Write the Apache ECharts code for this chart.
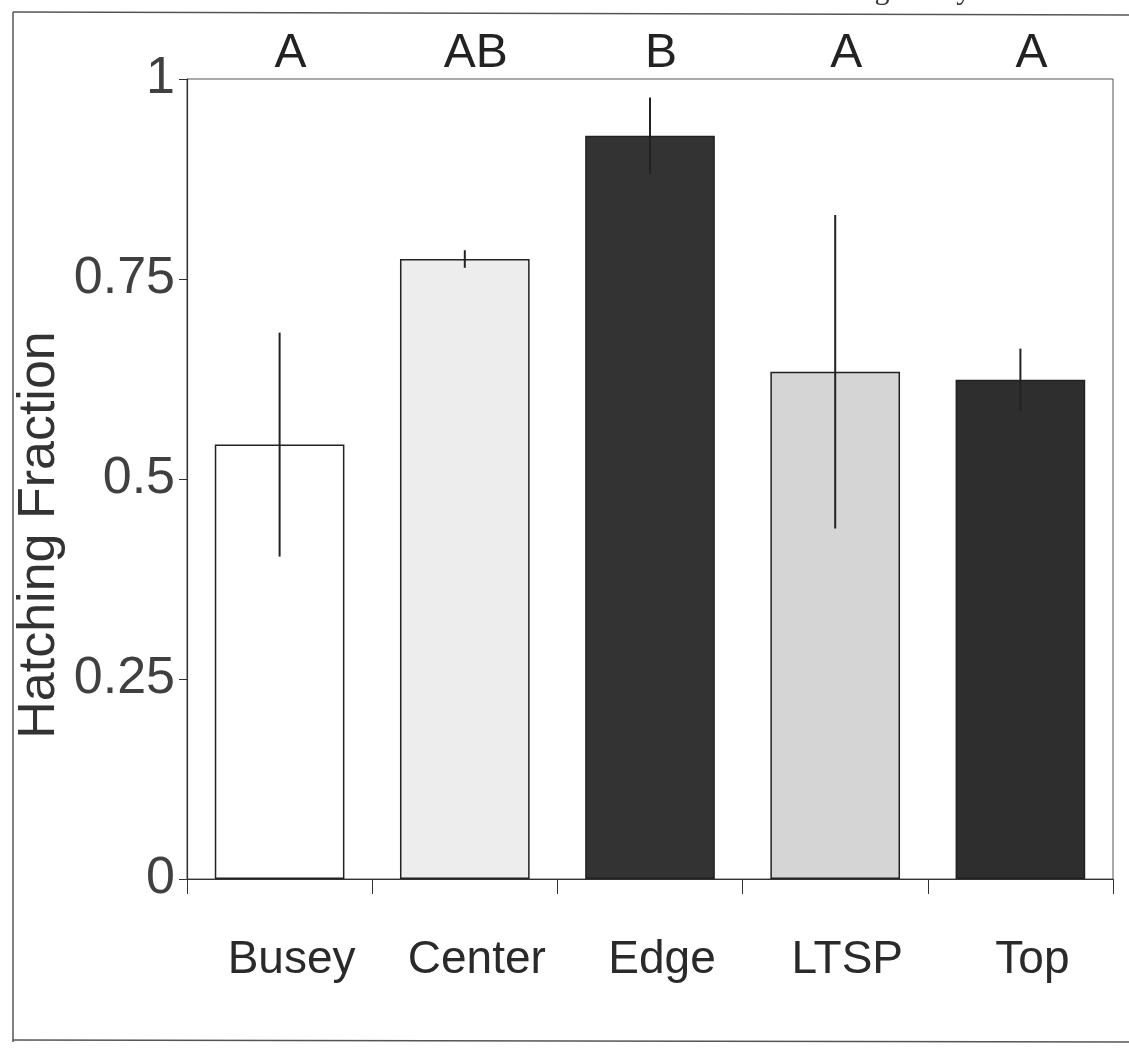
<!DOCTYPE html>
<html>
<head>
<meta charset="utf-8">
<script src="https://cdn.jsdelivr.net/npm/echarts@6/dist/echarts.min.js"></script>
<style>
html,body{margin:0;padding:0;background:#fff;}
#chart{width:1129px;height:1048px;}
</style>
</head>
<body>
<div id="chart"></div>
<script>
const categories = ['Busey', 'Center', 'Edge', 'LTSP', 'Top'];
const fractions = [0.543, 0.775, 0.929, 0.634, 0.624];
const errors = [0.14, 0.011, 0.048, 0.196, 0.039];
const letters = ['A', 'AB', 'B', 'A', 'A'];
const barColors = ['#ffffff', '#ededed', '#333333', '#d5d5d5', '#2e2e2e'];
const yTicks = [0, 0.25, 0.5, 0.75, 1];

const labelFont = "'Liberation Sans', Arial, sans-serif";
const chart = echarts.init(document.getElementById('chart'));

const errData = categories.map((c, i) => [i, fractions[i] - errors[i], fractions[i] + errors[i]]);

chart.setOption({
  animation: false,
  backgroundColor: '#fff',
  grid: { left: 187, right: 16, top: 79, bottom: 169, show: true, borderColor: '#555', borderWidth: 1 },
  xAxis: [{
    type: 'category',
    data: categories,
    axisLine: { lineStyle: { color: '#333', width: 1.2 } },
    axisTick: { show: true, interval: 0, length: 15, lineStyle: { color: '#333' } },
    axisLabel: { interval: 0, color: '#2a2a2a', fontSize: 46, fontFamily: labelFont, margin: 58, padding: [0, 0, 0, 24] }
  }, {
    type: 'category',
    position: 'top',
    data: letters,
    axisLine: { show: false },
    axisTick: { show: false },
    axisLabel: { interval: 0, color: '#222', fontSize: 48, fontFamily: labelFont, margin: 1, padding: [0, 0, 0, 22] }
  }],
  yAxis: {
    type: 'value',
    min: 0, max: 1, interval: 0.25,
    splitLine: { show: false },
    axisLine: { show: true, lineStyle: { color: '#333', width: 1.2 } },
    axisTick: { show: true, length: 8, lineStyle: { color: '#333' } },
    axisLabel: {
      color: '#404040', fontSize: 52, fontFamily: labelFont, margin: 12,
      formatter: v => { const t = yTicks.find(x => Math.abs(x - v) < 1e-9); return t === undefined ? '' : String(t); }
    }
  },
  series: [{
    type: 'bar',
    data: fractions.map((v, i) => ({ value: v, itemStyle: { color: barColors[i] } })),
    barWidth: '70%',
    itemStyle: { borderColor: '#222', borderWidth: 1.5 }
  }, {
    type: 'custom',
    data: errData,
    z: 10,
    renderItem: function (params, api) {
      const x = api.value(0);
      const lo = api.coord([x, api.value(1)]);
      const hi = api.coord([x, api.value(2)]);
      return {
        type: 'line',
        shape: { x1: lo[0], y1: lo[1], x2: hi[0], y2: hi[1] },
        style: { stroke: '#222', lineWidth: 2 }
      };
    }
  }],
  graphic: [
    { type: 'text', x: 40, y: 535, rotation: Math.PI / 2,
      style: { text: 'Hatching Fraction', fill: '#333', fontSize: 52, fontFamily: labelFont,
        textAlign: 'center', textVerticalAlign: 'middle' } },
    { type: 'line', shape: { x1: 13, y1: 12, x2: 13, y2: 1042 }, style: { stroke: '#555', lineWidth: 1.5 } },
    { type: 'line', shape: { x1: 13, y1: 12, x2: 1129, y2: 15 }, style: { stroke: '#555', lineWidth: 1.5 } },
    { type: 'line', shape: { x1: 13, y1: 1040, x2: 1129, y2: 1042 }, style: { stroke: '#555', lineWidth: 1.5 } },
    { type: 'text', x: 1127, y: 6,
      style: { text: 'hatching in any 5 collection.', fill: '#333', fontSize: 30,
        fontFamily: "'Liberation Serif', serif", textAlign: 'right', textVerticalAlign: 'bottom' } }
  ]
});
</script>
</body>
</html>
